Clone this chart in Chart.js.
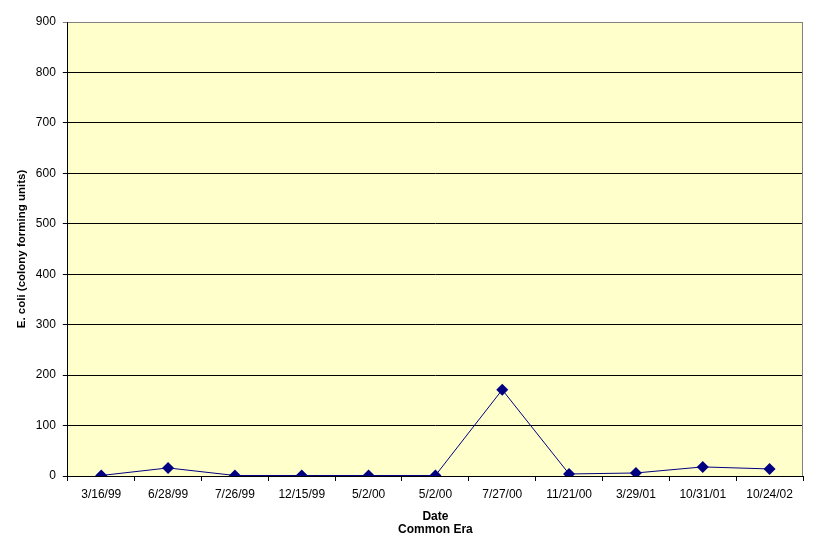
<!DOCTYPE html>
<html>
<head>
<meta charset="utf-8">
<script src="https://cdn.jsdelivr.net/npm/chart.js@4/dist/chart.umd.min.js"></script>
<style>
  html, body { margin: 0; padding: 0; background: #fff; }
  #wrap { width: 814px; height: 546px; }
</style>
</head>
<body>
<div id="wrap"><canvas id="chart"></canvas></div>
<script>
// Sample dates and E. coli counts
const sampleDates = ['3/16/99', '6/28/99', '7/26/99', '12/15/99', '5/2/00', '5/2/00', '7/27/00', '11/21/00', '3/29/01', '10/31/01', '10/24/02'];
const ecoliCounts = [1, 16, 1, 1, 1, 1, 171, 4, 6, 18, 14];
const yTickMax = 900;
const yTickStep = 100;

const fontFamily = '"Liberation Sans", Arial, sans-serif';

// paints the pale yellow plot area and the grey frame on top/right
const plotBackground = {
  id: 'plotBackground',
  beforeDraw(chart) {
    const { ctx, chartArea: a } = chart;
    ctx.save();
    ctx.fillStyle = '#FFFFCC';
    ctx.fillRect(a.left, a.top, a.right - a.left, a.bottom - a.top);
    ctx.restore();
  },
  afterDatasetsDraw(chart) {
    const { ctx, chartArea: a } = chart;
    ctx.save();
    ctx.strokeStyle = '#808080';
    ctx.lineWidth = 1;
    ctx.beginPath();
    ctx.moveTo(a.left, a.top + 0.5);
    ctx.lineTo(a.right - 0.5, a.top + 0.5);
    ctx.lineTo(a.right - 0.5, a.bottom);
    ctx.stroke();
    ctx.restore();
  }
};

new Chart(document.getElementById('chart'), {
  type: 'line',
  data: {
    labels: sampleDates,
    datasets: [{
      data: ecoliCounts,
      borderColor: '#000080',
      borderWidth: 1,
      backgroundColor: '#000080',
      pointStyle: 'rectRot',
      pointRadius: 6,
      pointBorderWidth: 0,
      tension: 0
    }]
  },
  options: {
    responsive: true,
    maintainAspectRatio: false,
    animation: false,
    layout: { padding: { top: 22, right: 11, left: 15, bottom: 9 } },
    plugins: { legend: { display: false }, tooltip: { enabled: false } },
    scales: {
      x: {
        offset: true,
        grid: { offset: true, drawOnChartArea: false, drawTicks: true, tickLength: 5, color: '#000' },
        border: { color: '#000', width: 1 },
        ticks: { color: '#000', font: { family: fontFamily, size: 12 }, maxRotation: 0, autoSkip: false, padding: 6 },
        title: {
          display: true,
          text: ['Date', 'Common Era'],
          color: '#000',
          font: { family: fontFamily, size: 12, weight: 'bold', lineHeight: 1.15 },
          padding: { top: 2, bottom: 0 }
        }
      },
      y: {
        min: 0,
        max: yTickMax,
        ticks: { stepSize: yTickStep, color: '#000', font: { family: fontFamily, size: 12 }, padding: 7 },
        grid: {
          color: c => (c.tick && c.tick.value === yTickMax ? '#808080' : '#000'),
          lineWidth: 1,
          drawTicks: true,
          tickLength: 5
        },
        border: { color: '#000', width: 1 },
        title: {
          display: true,
          text: 'E. coli (colony forming units)',
          color: '#000',
          font: { family: fontFamily, size: 11.5, weight: 'bold' },
          padding: { top: 0, bottom: 0 }
        }
      }
    }
  },
  plugins: [plotBackground]
});
</script>
</body>
</html>
